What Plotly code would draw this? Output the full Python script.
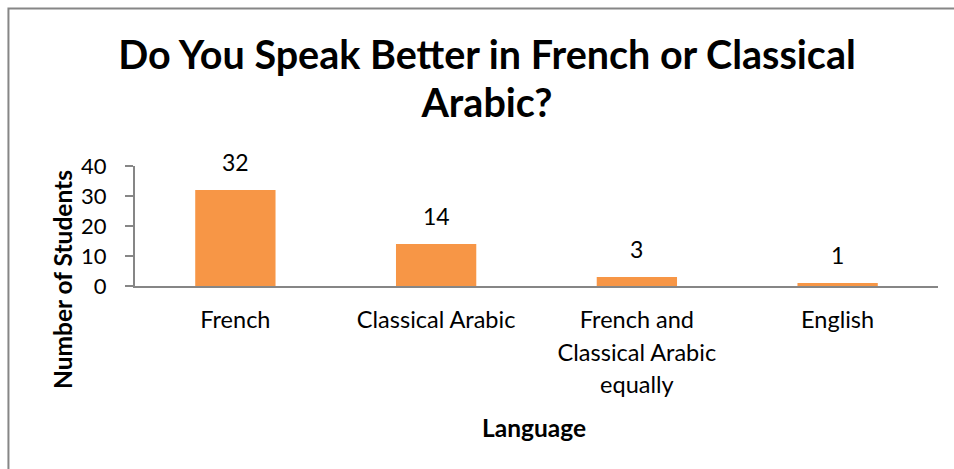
import plotly.graph_objects as go

# Survey responses
categories = ["French", "Classical Arabic", "French and Classical Arabic equally", "English"]
tick_labels = ["French", "Classical Arabic", "French and<br>Classical Arabic<br>equally", "English"]
students = [32, 14, 3, 1]
title_lines = ["Do You Speak Better in French or Classical", "Arabic?"]

FONT = "Lato"
BAR = "#F79646"
AXIS = "#868686"

# Outer font size sets the line spacing; the inner span sets glyph size
def spaced(lines, size, bold=False):
    out = []
    for ln in lines:
        s = f"<span style='font-size:{size}px'>{ln}</span>"
        out.append(f"<b>{s}</b>" if bold else s)
    return "<br>".join(out)

fig = go.Figure(
    go.Bar(
        x=categories,
        y=students,
        marker=dict(color=BAR, line=dict(width=0)),
        width=0.4,
        hoverinfo="skip",
    )
)

# Value labels above each bar
for c, v in zip(categories, students):
    fig.add_annotation(
        x=c, y=v, xref="x", yref="y", text=str(v), showarrow=False,
        yanchor="bottom", yshift=12, font=dict(family=FONT, size=23, color="#000"),
    )

# Axis titles
fig.add_annotation(
    x=-0.0909, y=0.05, xref="paper", yref="paper", text="<b>Number of Students</b>",
    textangle=-90, showarrow=False, xanchor="center", yanchor="middle",
    font=dict(family=FONT, size=24.5, color="#000"),
)
fig.add_annotation(
    x=0.4969, y=-1.175, xref="paper", yref="paper", text="<b>Language</b>",
    showarrow=False, xanchor="center", yanchor="middle",
    font=dict(family=FONT, size=24.5, color="#000"),
)

# Chart frame
fig.add_shape(
    type="rect", xref="paper", yref="paper",
    x0=-0.1576, x1=1.2, y0=-1.7, y1=2.3125,
    line=dict(color=AXIS, width=2), fillcolor="rgba(0,0,0,0)", layer="above",
)

fig.update_layout(
    width=954, height=469,
    margin=dict(l=135, r=16, t=166, b=183),
    paper_bgcolor="white", plot_bgcolor="white",
    showlegend=False,
    title=dict(
        text=spaced(title_lines, 39.5, bold=True),
        x=487 / 954, xanchor="center", xref="container",
        y=1 - 69 / 469, yanchor="middle", yref="container",
        font=dict(family=FONT, size=37, color="#000"),
    ),
    xaxis=dict(
        tickmode="array", tickvals=categories,
        ticktext=[spaced(t.split("<br>"), 23.5) for t in tick_labels],
        tickfont=dict(family=FONT, size=25, color="#000"),
        showline=True, linecolor=AXIS, linewidth=2,
        ticks="", showgrid=False, zeroline=False,
        ticklabelstandoff=10,
    ),
    yaxis=dict(
        range=[0, 40], dtick=10, tick0=0,
        tickfont=dict(family=FONT, size=22, color="#000"),
        showline=True, linecolor=AXIS, linewidth=2,
        ticks="outside", ticklen=8, tickcolor=AXIS, tickwidth=2,
        showgrid=False, zeroline=False,
        ticklabelstandoff=14,
    ),
)

fig.write_html("out.html")
